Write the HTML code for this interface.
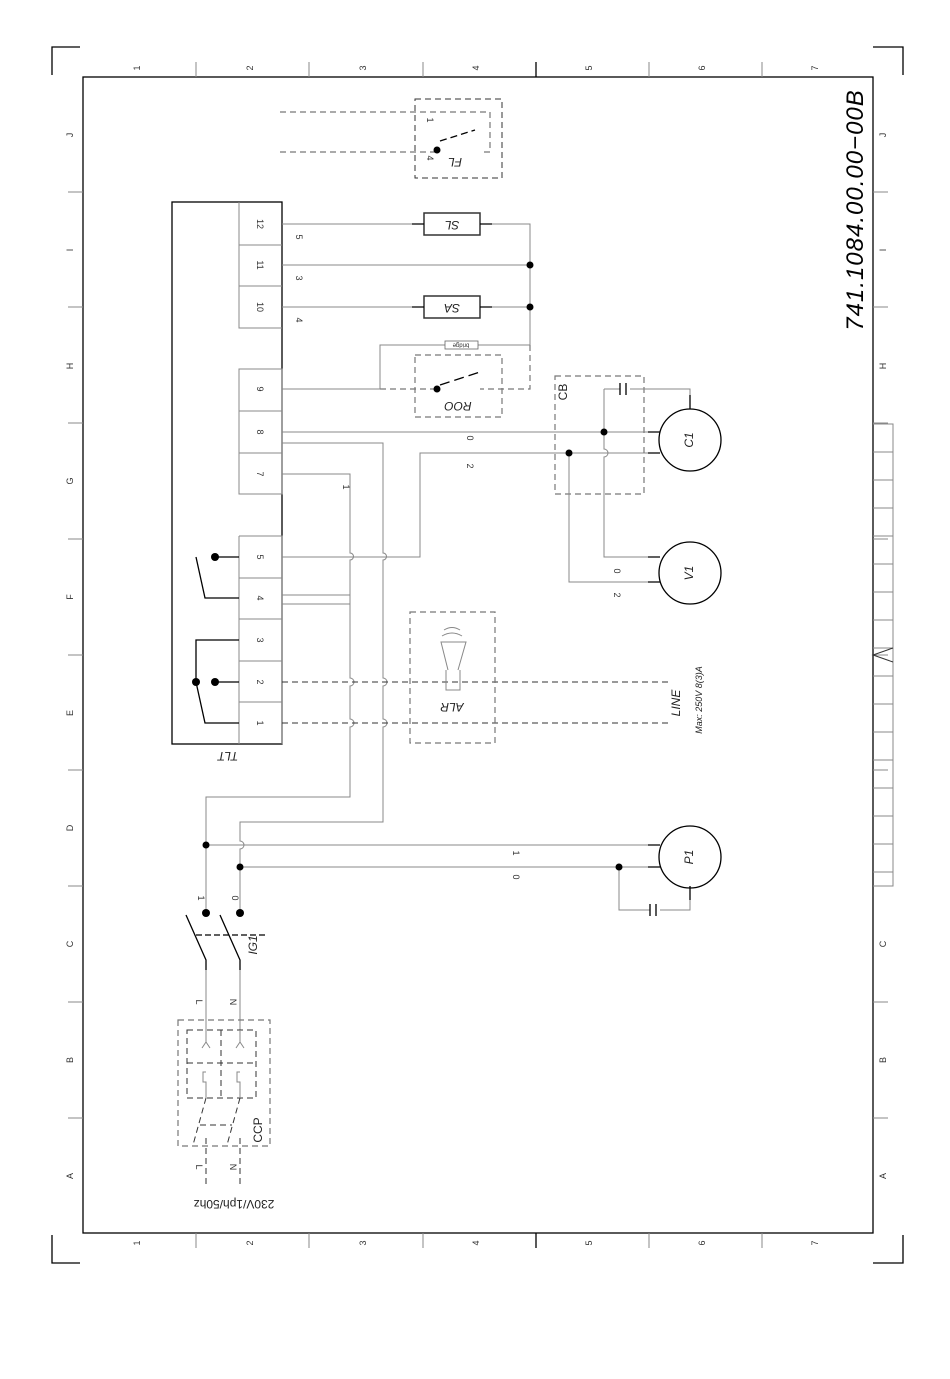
<!DOCTYPE html>
<html><head><meta charset="utf-8"><style>
html,body{margin:0;padding:0;background:#fff;}
svg{display:block;font-family:"Liberation Sans",sans-serif;}
.t{font-size:9px;fill:#333;}
.g{stroke:#888;stroke-width:1;fill:none;}
.k{stroke:#000;stroke-width:1.3;fill:none;}
.d{stroke:#777;stroke-width:1.2;fill:none;stroke-dasharray:6,4;}
.dk{stroke:#333;stroke-width:1;fill:none;stroke-dasharray:6,4;}
</style></head><body>
<svg width="950" height="1379" viewBox="0 0 950 1379" xmlns="http://www.w3.org/2000/svg">
<!-- corner brackets -->
<path class="k" d="M52 75 V47 H80 M873 47 H903 V75 M52 1235 V1263 H80 M873 1263 H903 V1235" stroke="#555"/>
<!-- frame -->
<rect x="83" y="77" width="790" height="1156" fill="none" stroke="#000" stroke-width="1.3"/>
<g class="g" stroke="#555">
<path d="M196 62 V77 M309 62 V77 M423 62 V77 M649 62 V77 M762 62 V77"/>
<path d="M196 1233 V1248 M309 1233 V1248 M423 1233 V1248 M649 1233 V1248 M762 1233 V1248"/>
<path d="M68 192 H83 M68 307 H83 M68 423 H83 M68 539 H83 M68 655 H83 M68 770 H83 M68 886 H83 M68 1002 H83 M68 1118 H83"/>
<path d="M873 192 H888 M873 307 H888 M873 423 H888 M873 539 H888 M873 655 H888 M873 770 H888 M873 886 H888 M873 1002 H888 M873 1118 H888"/>
</g>
<path d="M536 62 V77 M536 1233 V1248" stroke="#000" stroke-width="1.3"/>
<g class="t" font-size="10">
<g text-anchor="middle">
<text transform="translate(140,68) rotate(-90)">1</text><text transform="translate(253,68) rotate(-90)">2</text><text transform="translate(366,68) rotate(-90)">3</text><text transform="translate(479,68) rotate(-90)">4</text><text transform="translate(592,68) rotate(-90)">5</text><text transform="translate(705,68) rotate(-90)">6</text><text transform="translate(818,68) rotate(-90)">7</text>
<text transform="translate(140,1243) rotate(-90)">1</text><text transform="translate(253,1243) rotate(-90)">2</text><text transform="translate(366,1243) rotate(-90)">3</text><text transform="translate(479,1243) rotate(-90)">4</text><text transform="translate(592,1243) rotate(-90)">5</text><text transform="translate(705,1243) rotate(-90)">6</text><text transform="translate(818,1243) rotate(-90)">7</text>
</g>
<g text-anchor="middle">
<text transform="translate(73,135) rotate(-90)">J</text><text transform="translate(73,250) rotate(-90)">I</text><text transform="translate(73,366) rotate(-90)">H</text><text transform="translate(73,481) rotate(-90)">G</text><text transform="translate(73,597) rotate(-90)">F</text><text transform="translate(73,713) rotate(-90)">E</text><text transform="translate(73,828) rotate(-90)">D</text><text transform="translate(73,944) rotate(-90)">C</text><text transform="translate(73,1060) rotate(-90)">B</text><text transform="translate(73,1176) rotate(-90)">A</text>
<text transform="translate(886,135) rotate(-90)">J</text><text transform="translate(886,250) rotate(-90)">I</text><text transform="translate(886,366) rotate(-90)">H</text><text transform="translate(886,944) rotate(-90)">C</text><text transform="translate(886,1060) rotate(-90)">B</text><text transform="translate(886,1176) rotate(-90)">A</text>
</g>
</g>
<!-- title block -->
<g class="g" stroke="#555">
<path d="M873 424 H893 V886 H873"/>
<path d="M873 452 H893 M873 480 H893 M873 508 H893 M873 536 H893 M873 564 H893 M873 592 H893 M873 620 H893 M873 648 H893 M873 676 H893 M873 704 H893 M873 732 H893 M873 760 H893 M873 788 H893 M873 816 H893 M873 844 H893 M873 872 H893"/>
<path d="M893 648 L873 655 L893 662" stroke="#333"/>
</g>
<text transform="translate(863,210) rotate(-90)" text-anchor="middle" font-size="24" font-style="italic" fill="#000" letter-spacing="1">741.1084.00.00−00B</text>

<!-- TLT -->
<rect x="172" y="202" width="110" height="542" fill="none" stroke="#000" stroke-width="1.3"/>
<path class="g" stroke="#333" d="M239 202 V328 H282 M239 245 H282 M239 286 H282 M239 369 H282 V494 H239 Z M239 411 H282 M239 453 H282 M239 536 H282 V744 M239 536 V744 M239 578 H282 M239 619 H282 M239 661 H282 M239 702 H282"/>
<g class="t" text-anchor="middle">
<text transform="translate(257,224) rotate(90)">12</text><text transform="translate(257,265) rotate(90)">11</text><text transform="translate(257,307) rotate(90)">10</text>
<text transform="translate(257,389) rotate(90)">9</text><text transform="translate(257,432) rotate(90)">8</text><text transform="translate(257,474) rotate(90)">7</text>
<text transform="translate(257,557) rotate(90)">5</text><text transform="translate(257,598) rotate(90)">4</text><text transform="translate(257,640) rotate(90)">3</text><text transform="translate(257,682) rotate(90)">2</text><text transform="translate(257,723) rotate(90)">1</text>
</g>
<text transform="translate(228,752) rotate(180)" text-anchor="middle" font-size="12" font-style="italic" fill="#222">TLT</text>
<!-- TLT internal contacts -->
<path class="k" d="M239 557 H215 M239 598 H205 L196 557 M239 640 H196 V682 M239 682 H215 M239 723 H205 L196 682"/>
<g fill="#000"><circle cx="215" cy="557" r="4"/><circle cx="215" cy="682" r="4"/><circle cx="196" cy="682" r="4"/></g>

<!-- right wires -->
<path class="g" d="M282 224 H424 M480 224 H530 V345 M282 265 H530 M282 307 H424 M480 307 H530"/>
<path class="d" d="M530 345 V389 H480"/>
<rect x="424" y="213" width="56" height="22" fill="#fff" stroke="#333" stroke-width="1.5"/>
<rect x="424" y="296" width="56" height="22" fill="#fff" stroke="#333" stroke-width="1.5"/>
<path class="k" d="M412 224 H424 M480 224 H492 M412 307 H424 M480 307 H492"/>
<text transform="translate(452,224) rotate(180)" text-anchor="middle" dominant-baseline="middle" font-size="12" font-style="italic" fill="#222">SL</text>
<text transform="translate(452,307) rotate(180)" text-anchor="middle" dominant-baseline="middle" font-size="12" font-style="italic" fill="#222">SA</text>
<g fill="#000"><circle cx="530" cy="265" r="3.5"/><circle cx="530" cy="307" r="3.5"/></g>
<g class="t" text-anchor="middle"><text transform="translate(296,237) rotate(90)">5</text><text transform="translate(296,278) rotate(90)">3</text><text transform="translate(296,320) rotate(90)">4</text></g>
<!-- bridge / ROO -->
<path class="g" d="M282 389 H380 V345 H445 M478 345 H530"/>
<rect x="445" y="341" width="33" height="8" fill="#fff" stroke="#666" stroke-width="0.8"/>
<text transform="translate(461,345) rotate(180)" text-anchor="middle" dominant-baseline="middle" font-size="6" fill="#333">bridge</text>
<path class="d" d="M380 389 H437"/>
<rect x="415" y="355" width="87" height="62" class="d" stroke="#666"/>
<circle cx="437" cy="389" r="3.5" fill="#000"/>
<path class="k" d="M440 385 L480 372" stroke-dasharray="10,5"/>
<text transform="translate(458,405) rotate(180)" text-anchor="middle" dominant-baseline="middle" font-size="12" font-style="italic" fill="#222">ROO</text>
<!-- FL -->
<rect x="415" y="99" width="87" height="79" class="dk"/>
<path class="d" d="M280 112 H490 V152 H480 M280 152 H437"/>
<circle cx="437" cy="150" r="3.5" fill="#000"/>
<path class="k" d="M440 141 L475 130" stroke-dasharray="7,4"/>
<g class="t" text-anchor="middle"><text transform="translate(427,120) rotate(90)">1</text><text transform="translate(427,158) rotate(90)">4</text></g>
<text transform="translate(455,161) rotate(180)" text-anchor="middle" dominant-baseline="middle" font-size="12" font-style="italic" fill="#222">FL</text>

<!-- 8, 7, 5 wires -->
<path class="g" d="M282 432 H655 M282 474 H350 V553 a3 3 0 0 1 0 7 V678 a3 3 0 0 1 0 8 V719 a3 3 0 0 1 0 8 V797 H206 V913 M282 595 H350 M282 604 H350"/>
<path class="g" d="M282 443 H383 V553 a3 3 0 0 1 0 7 V678 a3 3 0 0 1 0 8 V719 a3 3 0 0 1 0 8 V822 H240 V841 a3 3 0 0 1 0 8 V913"/>
<path class="g" d="M282 557 H420 V453 H655"/>
<g class="t" text-anchor="middle"><text transform="translate(343,487) rotate(90)">1</text><text transform="translate(467,438) rotate(90)">0</text><text transform="translate(467,466) rotate(90)">2</text></g>
<!-- CB, C1, V1 -->
<rect x="555" y="376" width="89" height="118" class="d" stroke="#777"/>
<path class="g" d="M604 389 H620 M630 389 H690 V405 M604 389 V449 a3 3 0 0 1 0 8 V557 H655 M569 453 V582 H655"/>
<path class="k" d="M620 383 V395 M626 383 V395" stroke-width="1.5"/>
<g fill="#000"><circle cx="604" cy="432" r="3.5"/><circle cx="569" cy="453" r="3.5"/></g>
<text transform="translate(567,392) rotate(-90)" text-anchor="middle" font-size="12" fill="#222">CB</text>
<circle cx="690" cy="440" r="31" class="k"/>
<circle cx="690" cy="573" r="31" class="k"/>
<path class="k" d="M648 432 H660 M648 453 H660 M690 395 V409 M648 557 H660 M648 582 H660"/>
<text transform="translate(690,440) rotate(-90)" text-anchor="middle" dominant-baseline="middle" font-size="12" font-style="italic" fill="#222">C1</text>
<text transform="translate(690,573) rotate(-90)" text-anchor="middle" dominant-baseline="middle" font-size="12" font-style="italic" fill="#222">V1</text>
<g class="t" text-anchor="middle"><text transform="translate(614,571) rotate(90)">0</text><text transform="translate(614,595) rotate(90)">2</text></g>
<!-- ALR / LINE -->
<path class="dk" d="M282 682 H668 M282 723 H668"/>
<rect x="410" y="612" width="85" height="131" class="d" stroke="#777"/>
<path class="g" stroke="#333" d="M446 670 V690 H460 V670 M448 670 L441 642 H466 L458 670 M442 636 Q452 630 462 636 M444 630 Q452 625 460 630"/>
<text transform="translate(452,706) rotate(180)" text-anchor="middle" dominant-baseline="middle" font-size="12" font-style="italic" fill="#222">ALR</text>
<text transform="translate(680,703) rotate(-90)" text-anchor="middle" font-size="12" font-style="italic" fill="#222">LINE</text>
<text transform="translate(702,700) rotate(-90)" text-anchor="middle" font-size="9" font-style="italic" fill="#222">Max: 250V 8(3)A</text>
<!-- P1 -->
<path class="g" d="M206 845 H655 M240 867 H655 M619 867 V910 H650 M660 910 H690 V889"/>
<path class="k" d="M650 904 V916 M656 904 V916" stroke-width="1.5"/>
<circle cx="690" cy="857" r="31" class="k"/>
<path class="k" d="M648 845 H660 M648 867 H660 M690 886 V900"/>
<text transform="translate(690,857) rotate(-90)" text-anchor="middle" dominant-baseline="middle" font-size="12" font-style="italic" fill="#222">P1</text>
<g fill="#000"><circle cx="206" cy="845" r="3.5"/><circle cx="240" cy="867" r="3.5"/><circle cx="619" cy="867" r="3.5"/></g>
<g class="t" text-anchor="middle"><text transform="translate(513,853) rotate(90)">1</text><text transform="translate(513,877) rotate(90)">0</text></g>
<!-- IG1 -->
<g fill="#000"><circle cx="206" cy="913" r="4"/><circle cx="240" cy="913" r="4"/></g>
<path class="k" d="M186 915 L206 960 V970 M220 915 L240 960 V970" stroke-width="1.5"/>
<path class="k" d="M196 935 H265" stroke-dasharray="6,3" stroke-width="1.5"/>
<path class="g" d="M206 970 V1030 M240 970 V1030"/>
<g class="t" text-anchor="middle"><text transform="translate(198,898) rotate(90)">1</text><text transform="translate(232,898) rotate(90)">0</text><text transform="translate(196,1002) rotate(90)">L</text><text transform="translate(230,1002) rotate(90)">N</text><text transform="translate(196,1167) rotate(90)">L</text><text transform="translate(230,1167) rotate(90)">N</text></g>
<text transform="translate(257,945) rotate(-90)" text-anchor="middle" font-size="12" font-style="italic" fill="#222">IG1</text>
<!-- CCP -->
<rect x="178" y="1020" width="92" height="126" class="d" stroke="#777"/>
<path class="dk" d="M187 1030 H256 V1098 H187 Z M221 1030 V1098 M187 1063 H256"/>
<path class="g" stroke="#333" d="M206 1030 V1042 L202 1048 M206 1042 L210 1048 M240 1030 V1042 L236 1048 M240 1042 L244 1048 M206 1072 H203 V1082 H206 V1098 M240 1072 H237 V1082 H240 V1098"/>
<path class="dk" d="M206 1098 L193 1145 M240 1098 L227 1145 M200 1125 H232 M206 1138 V1185 M240 1138 V1185"/>
<text transform="translate(262,1130) rotate(-90)" text-anchor="middle" font-size="12" fill="#222">CCP</text>
<text transform="translate(234,1203) rotate(180)" text-anchor="middle" dominant-baseline="middle" font-size="12" fill="#222">230V/1ph/50hz</text>
</svg>
</body></html>
